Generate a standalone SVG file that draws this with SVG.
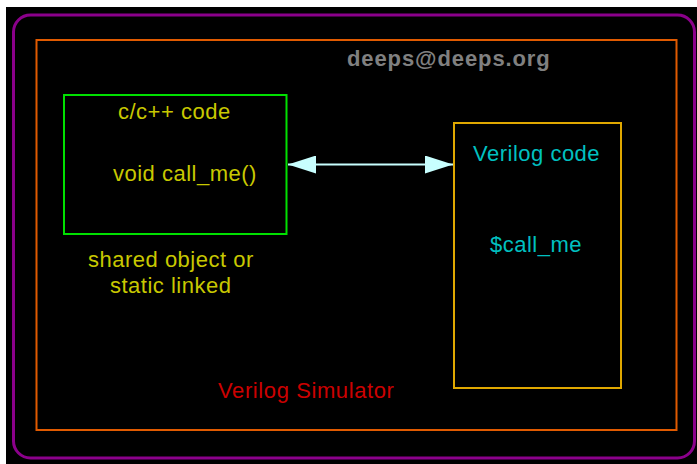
<svg xmlns="http://www.w3.org/2000/svg" width="697" height="464" viewBox="0 0 697 464">
<style>
.t{font-family:"Liberation Sans",Arial,sans-serif;font-size:22px;letter-spacing:0.5px}
.y{fill:#c8c800}
.c{fill:#00c0c0}
</style>
<defs>
<marker id="ah" viewBox="0 0 28 18" refX="28" refY="9" markerWidth="28" markerHeight="18" markerUnits="userSpaceOnUse" orient="auto-start-reverse">
<path d="M0,0 L28,9 L0,18 Z" fill="#c8ffff"/>
</marker>
</defs>
<rect x="0" y="0" width="697" height="464" fill="#ffffff"/>
<rect x="6" y="7" width="691" height="457" fill="#000000"/>
<g id="simulator">
<rect x="13.5" y="15" width="681" height="443" rx="17" ry="17" fill="none" stroke="#8b008b" stroke-width="3"/>
<rect x="36.5" y="40" width="640" height="390" fill="none" stroke="#e05a00" stroke-width="2"/>
<text class="t" x="218" y="398" fill="#cc0000" style="letter-spacing:0.6px">Verilog Simulator</text>
<text class="t" x="347" y="66" fill="#808080" font-weight="bold" style="letter-spacing:0.9px">deeps@deeps.org</text>
</g>
<g id="c_code">
<rect x="64" y="95" width="222.5" height="139" fill="none" stroke="#00e000" stroke-width="2"/>
<text class="t y" x="118" y="119">c/c++ code</text>
<text class="t y" x="113" y="181">void call_me()</text>
<text class="t y" x="88" y="267">shared object or</text>
<text class="t y" x="110" y="293">static linked</text>
</g>
<g id="verilog_code">
<rect x="454" y="123" width="167" height="265" fill="none" stroke="#e0a800" stroke-width="2"/>
<text class="t c" x="473" y="161">Verilog code</text>
<text class="t c" x="490" y="252">$call_me</text>
</g>
<g id="connectors">
<line x1="288" y1="164.5" x2="453" y2="164.5" stroke="#c8ffff" stroke-width="2" marker-start="url(#ah)" marker-end="url(#ah)"/>
</g>
</svg>
